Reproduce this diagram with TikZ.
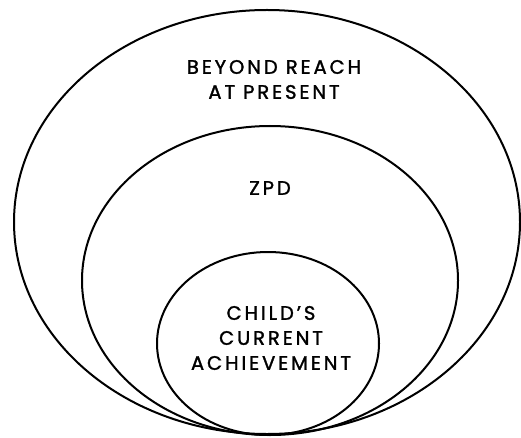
\documentclass[tikz,border=0pt]{standalone}
\usepackage{fontspec}
\usepackage{tikz}
\newfontfamily\zonefont[LetterSpace=15, FakeBold=1.6]{Poppins}

\tikzset{
  zone/.style={draw=black, line width=2pt},
  zonelabel/.style={align=center, inner sep=0pt,
    font={\zonefont\fontsize{19.5}{25}\selectfont}}
}

\begin{document}
\begin{tikzpicture}[x=1pt, y=1pt]
    \useasboundingbox (0,0) rectangle (521,437);
    % nested zones, all touching at the bottom
    \draw[zone] (267,215) ellipse [x radius=253, y radius=212];
    \draw[zone] (270,156.5) ellipse [x radius=188, y radius=154.5];
    \draw[zone] (268,93.5) ellipse [x radius=111, y radius=91.5];
    % labels
    \node[zonelabel] (beyond) at (274,357.5) {BEYOND REACH\\AT PRESENT};
    \node[zonelabel] (zpd) at (270,249) {ZPD};
    \node[zonelabel] (current) at (271,99) {CHILD’S\\CURRENT\\ACHIEVEMENT};
  \end{tikzpicture}
\end{document}
